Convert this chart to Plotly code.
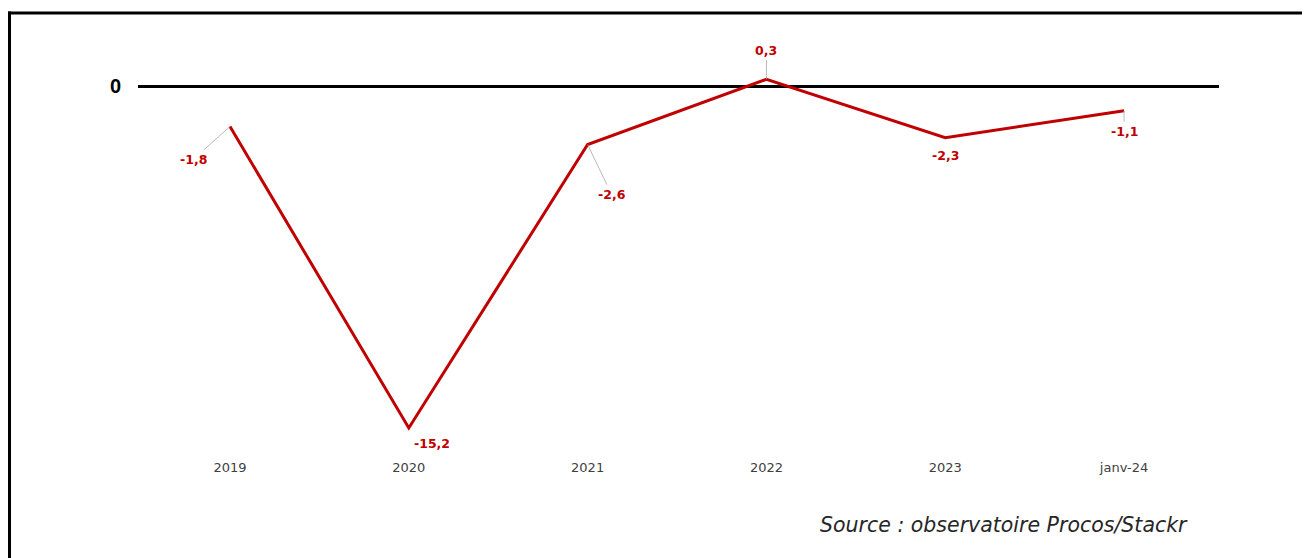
import plotly.graph_objects as go

categories = ["2019", "2020", "2021", "2022", "2023", "janv-24"]
values = [-1.8, -15.2, -2.6, 0.3, -2.3, -1.1]
value_labels = ["-1,8", "-15,2", "-2,6", "0,3", "-2,3", "-1,1"]
# label offsets (pixels) relative to the point, and whether a leader line is shown
label_dx = [-37, 23, 24, 0, 0, 0]
label_dy = [33, 15, 50, -29, 18, 21]
leader = [True, False, True, True, False, True]

OFF = 8  # page body margin
W, H = 1310 - OFF, 558 - OFF
L, R, T, B = 138 - OFF, W - (1219 - OFF), 40 - OFF, H - (450 - OFF)
pw, ph = W - L - R, H - T - B
Y0 = 86 - OFF

fig = go.Figure()
fig.add_trace(go.Scatter(
    x=list(range(len(categories))), y=values, mode="lines",
    line=dict(color="#C00000", width=3), hoverinfo="skip", showlegend=False,
))

for i, (v, t) in enumerate(zip(values, value_labels)):
    fig.add_annotation(
        x=i, y=v, text=t, showarrow=True, ax=label_dx[i], ay=label_dy[i],
        arrowhead=0, arrowwidth=0.8, standoff=0, startstandoff=1,
        arrowcolor="#A6A6A6" if leader[i] else "rgba(0,0,0,0)",
        font=dict(family="DejaVu Sans", size=12.5, color="#C00000", weight="bold"),
    )

def px_x(p):
    return (p - OFF - L) / pw
def px_y(p):
    return (H - B - (p - OFF)) / ph

# frame (top and left edges; the rest lies outside the picture)
fig.add_shape(type="line", xref="paper", yref="paper",
              x0=px_x(8), x1=px_x(1400), y0=px_y(13), y1=px_y(13),
              line=dict(color="black", width=3), layer="above")
fig.add_shape(type="line", xref="paper", yref="paper",
              x0=px_x(9.5), x1=px_x(9.5), y0=px_y(11.5), y1=px_y(600),
              line=dict(color="black", width=3), layer="above")

fig.add_annotation(
    xref="paper", yref="paper", x=px_x(1190), y=px_y(525), xanchor="right", yanchor="middle",
    text="<i>Source : observatoire Procos/Stackr</i>", showarrow=False,
    font=dict(family="DejaVu Sans", size=20.5, color="#262626"),
)

fig.update_layout(
    width=W, height=H, margin=dict(l=L, r=R, t=T, b=B),
    paper_bgcolor="white", plot_bgcolor="white",
    xaxis=dict(
        range=[-0.5145, 5.531], tickvals=list(range(len(categories))), ticktext=categories,
        showgrid=False, zeroline=False, showline=False, ticks="",
        tickfont=dict(family="DejaVu Sans", size=13, color="#404040"), ticklabelstandoff=8,
    ),
    yaxis=dict(
        range=[-(H - B - Y0) / 22.5, (Y0 - T) / 22.5], tickvals=[0], ticktext=["<b>0</b>"],
        showgrid=False, zeroline=True, zerolinecolor="black", zerolinewidth=3,
        showline=False, ticks="",
        tickfont=dict(family="Liberation Sans", size=20, color="black"), ticklabelstandoff=16,
    ),
)

fig.write_html("out.html")
